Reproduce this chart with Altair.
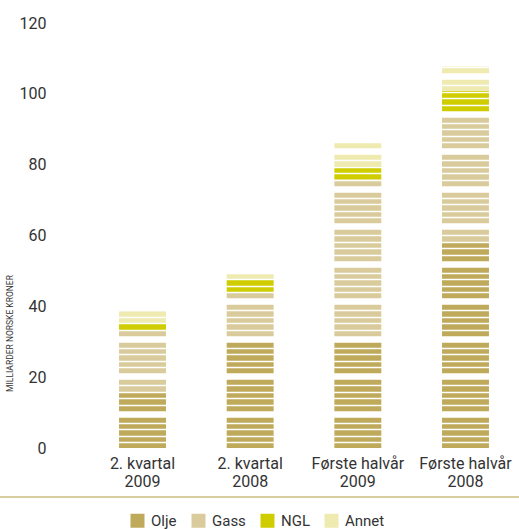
import altair as alt
import pandas as pd

# ---- data ----
period_names = ["2. kvartal", "2. kvartal", "Første halvår", "Første halvår"]
years = ["2009", "2008", "2009", "2008"]
sources = ["Olje", "Gass", "NGL", "Annet"]
olje = [15.7, 30.6, 30.6, 58.2]
gass = [17.5, 13.3, 45.2, 36.4]
ngl = [2.0, 3.7, 3.7, 6.2]
annet = [3.4, 1.7, 6.8, 6.9]
y_ticks = [0, 20, 40, 60, 80, 100, 120]
colors = ["#bfaa5b", "#d9cb9b", "#cfcc00", "#eeeab0"]

periods = [f"{n} {y}" for n, y in zip(period_names, years)]
series = {"Olje": olje, "Gass": gass, "NGL": ngl, "Annet": annet}
rows = []
for i, p in enumerate(periods):
    for k, s in enumerate(sources):
        rows.append({"period": p, "source": s, "value": series[s][i], "idx": k})
df = pd.DataFrame(rows)

# ---- decorative stripe pattern (white grid lines drawn over the bars) ----
W, H = 430, 425
u = 120 / H  # value units per pixel
gaps = []
for k in range(12):
    for j in range(4):
        gaps.append((k * 37.5 + j * 6.5 + 5.75) * u)
    gaps.append((k * 37.5 + 34.25) * u)
gaps = [g for g in gaps if g < 120]
axis_values = sorted(set(gaps + y_ticks))
block = 37.5 * u

bars = alt.Chart(df).mark_bar().encode(
    x=alt.X(
        "period:N",
        sort=periods,
        scale=alt.Scale(paddingInner=0.564, paddingOuter=0.279),
        axis=alt.Axis(
            title=None, labelAngle=0, domain=False, ticks=False, grid=False,
            labelExpr="[slice(datum.label, 0, length(datum.label) - 5), slice(datum.label, length(datum.label) - 4)]",
            labelFontSize=16, labelLineHeight=18, labelPadding=7,
            labelColor="#333333", labelFont="Roboto",
        ),
    ),
    y=alt.Y(
        "sum(value):Q",
        stack="zero",
        scale=alt.Scale(domain=[0, 120], nice=False),
        axis=alt.Axis(
            title="MILLIARDER NORSKE KRONER",
            values=axis_values,
            labelExpr="datum.value % 20 === 0 ? datum.label : ''",
            labelOverlap=False,
            domain=False, ticks=False,
            grid=True, gridColor="white",
            gridWidth={"condition": {"test": f"datum.value % {block} > 8.5", "value": 6.5}, "value": 1.5},
            gridOpacity={"condition": {"test": "datum.value % 20 === 0", "value": 0}, "value": 1},
            zindex=1,
            labelFontSize=16, labelFont="Roboto", labelColor="#333333",
            labelPadding=43,
            titleFontSize=8.5, titleFont="Roboto", titleFontWeight="normal",
            titleColor="#333333", titleX=-80, titleY=310,
            titleAngle=270, titleAlign="center", titleBaseline="middle",
        ),
    ),
    color=alt.Color(
        "source:N",
        sort=sources,
        scale=alt.Scale(domain=sources, range=colors),
        legend=alt.Legend(
            orient="none", legendX=41, legendY=490, direction="horizontal",
            title=None, symbolType="square", symbolSize=196, symbolStrokeWidth=0,
            labelFontSize=15, labelFont="Roboto", labelColor="#333333",
            columnPadding=14, labelOffset=6, padding=0,
        ),
    ),
    order=alt.Order("idx:Q", sort="ascending"),
)

sep = alt.Chart(alt.Data(values=[{}])).mark_rule(color="#d9cc9f", strokeWidth=2).encode(
    x=alt.value(-89), x2=alt.value(W), y=alt.value(474)
)

chart = (
    alt.layer(bars, sep, view=alt.ViewBackground(strokeOpacity=0, strokeWidth=0))
    .properties(
        width=W, height=H,
        autosize=alt.AutoSizeParams(type="none"),
        padding={"left": 89, "top": 23, "right": 0, "bottom": 81},
    )
    .configure_view(strokeOpacity=0, strokeWidth=0)
    .configure_axis(domain=False, gridColor="white", domainOpacity=0)
    .configure_axisX(grid=False)
    .configure(font="Roboto")
)

chart.save("out.html", embed_options={"renderer": "svg", "actions": False})
